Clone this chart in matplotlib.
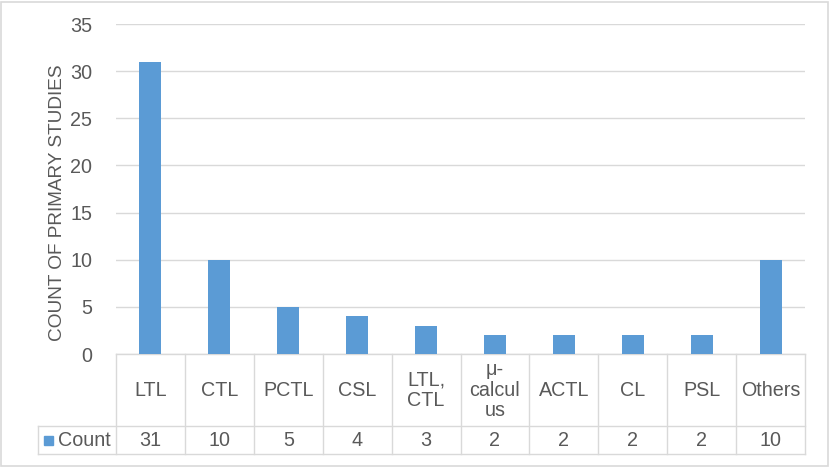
import matplotlib
matplotlib.use("Agg")
import matplotlib.pyplot as plt
from matplotlib.transforms import blended_transform_factory
from matplotlib.patches import Rectangle

categories = ["LTL", "CTL", "PCTL", "CSL", "LTL,\nCTL", "μ-\ncalcul\nus", "ACTL", "CL", "PSL", "Others"]
counts = [31, 10, 5, 4, 3, 2, 2, 2, 2, 10]
series_name = "Count"
yticks = [0, 5, 10, 15, 20, 25, 30, 35]
ylabel = "COUNT OF PRIMARY STUDIES"

BAR = "#5B9BD5"
GRID = "#D9D9D9"
TXT = "#595959"
plt.rcParams['font.family'] = ['Liberation Sans', 'DejaVu Sans']
FS = 14.2

W, H = 830, 467
fig = plt.figure(figsize=(W / 100, H / 100), dpi=100)
ax = fig.add_axes([116 / W, 1 - 354 / H, (805 - 116) / W, (354 - 24) / H])

x = list(range(len(categories)))
ax.bar(x, counts, width=0.32, color=BAR, zorder=3)
ax.set_xlim(-0.5, len(categories) - 0.5)
ax.set_ylim(0, 35)
ax.set_yticks(yticks)
ax.yaxis.grid(True, color=GRID, linewidth=1)
ax.set_axisbelow(True)
for s in ax.spines.values():
    s.set_visible(False)
ax.tick_params(axis='y', length=0, labelsize=FS, labelcolor=TXT, pad=17)
ax.set_xticks([])
ax.text(-59 / 689, 0.46, ylabel, rotation=90, ha='center', va='center',
        fontsize=13.7, color=TXT, transform=ax.transAxes)

# data table
tr = blended_transform_factory(ax.transData, ax.transAxes)
ah = 330.0
r1 = -72 / ah
r2 = -100 / ah
cw = 68.9
leg_left = -0.5 - 78 / cw
n = len(categories)
lw = 1.0
ax.plot([-0.5, n - 0.5], [0, 0], color=GRID, lw=lw, transform=tr, clip_on=False)
ax.plot([leg_left, n - 0.5], [r1, r1], color=GRID, lw=lw, transform=tr, clip_on=False)
ax.plot([leg_left, n - 0.5], [r2, r2], color=GRID, lw=lw, transform=tr, clip_on=False)
for i in range(n + 1):
    xv = i - 0.5
    ax.plot([xv, xv], [0, r2], color=GRID, lw=lw, transform=tr, clip_on=False)
ax.plot([leg_left, leg_left], [r1, r2], color=GRID, lw=lw, transform=tr, clip_on=False)

for i, (c, v) in enumerate(zip(categories, counts)):
    ax.text(i, r1 / 2, c, ha='center', va='center', fontsize=FS, color=TXT,
            transform=tr, linespacing=1.08)
    ax.text(i, (r1 + r2) / 2, str(v), ha='center', va='center', fontsize=FS,
            color=TXT, transform=tr)

# legend key in table
ax.add_patch(Rectangle((leg_left + 6 / cw, (r1 + r2) / 2 - 4.5 / ah), 9 / cw, 9 / ah,
                       color=BAR, transform=tr, clip_on=False))
ax.text(leg_left + 20 / cw, (r1 + r2) / 2, series_name, ha='left', va='center',
        fontsize=FS, color=TXT, transform=tr)

fig.patches.append(Rectangle((1 / W, 1 / H), (W - 3) / W, (H - 3) / H, fill=False,
                             edgecolor=GRID, lw=1.2, transform=fig.transFigure))

fig.savefig("out.png", dpi=100)
